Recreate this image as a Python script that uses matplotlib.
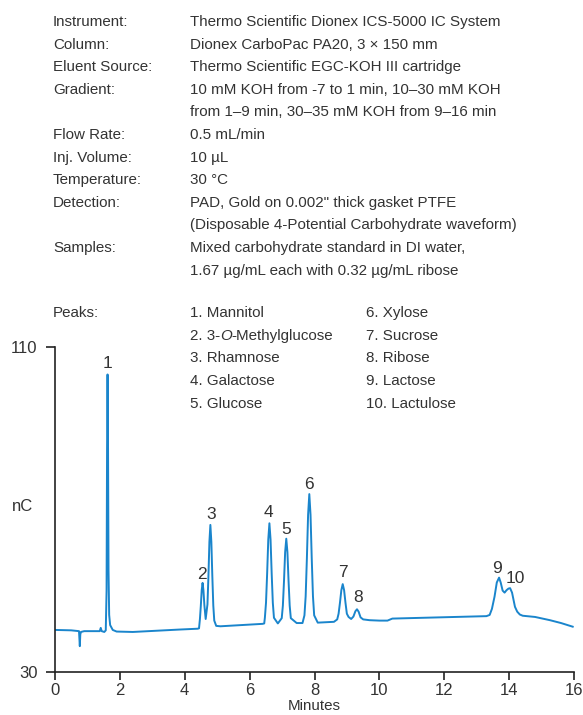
import matplotlib
matplotlib.use("Agg")
import matplotlib.pyplot as plt

FONT = ["Liberation Sans", "DejaVu Sans"]
plt.rcParams["font.family"] = FONT

TEXT = "#333333"
LINE = "#1a85cc"

# conditions table
cond_labels = ["Instrument:", "Column:", "Eluent Source:", "Gradient:", "", "Flow Rate:",
               "Inj. Volume:", "Temperature:", "Detection:", "", "Samples:", ""]
cond_values = [
    "Thermo Scientific Dionex ICS-5000 IC System",
    "Dionex CarboPac PA20, 3 \u00d7 150 mm",
    "Thermo Scientific EGC-KOH III cartridge",
    "10 mM KOH from -7 to 1 min, 10\u201330 mM KOH",
    "from 1\u20139 min, 30\u201335 mM KOH from 9\u201316 min",
    "0.5 mL/min",
    "10 \u00b5L",
    "30 \u00b0C",
    "PAD, Gold on 0.002\" thick gasket PTFE",
    "(Disposable 4-Potential Carbohydrate waveform)",
    "Mixed carbohydrate standard in DI water,",
    "1.67 \u00b5g/mL each with 0.32 \u00b5g/mL ribose",
]

# peak names; the part between | is set in italics
peak_names = ["Mannitol", "3-|O|-Methylglucose", "Rhamnose", "Galactose", "Glucose",
              "Xylose", "Sucrose", "Ribose", "Lactose", "Lactulose"]

# peak label positions (min, nC at text baseline)
peak_rt = [1.62, 4.52, 4.80, 6.59, 7.14, 7.84, 8.87, 9.35, 13.62, 14.18]
peak_lab_y = [104.9, 52.8, 67.6, 68.2, 64.0, 75.1, 53.4, 47.1, 54.4, 51.8]

# chromatogram trace
minutes = [0.00, 0.50, 0.74, 0.765, 0.78, 0.80, 0.90, 1.38, 1.41, 1.44, 1.52, 1.565,
           1.59, 1.605, 1.62, 1.635, 1.65, 1.67, 1.70, 1.78, 1.90, 2.40, 3.85, 4.40,
           4.44, 4.468, 4.495, 4.523, 4.55, 4.577, 4.605, 4.645, 4.70, 4.73, 4.76, 4.79,
           4.82, 4.85, 4.88, 4.91, 4.97, 5.10, 6.40,
           6.45, 6.47, 6.505, 6.54, 6.575, 6.61, 6.645, 6.68, 6.715, 6.75, 6.87,
           6.99, 7.025, 7.06, 7.095, 7.13, 7.165, 7.20, 7.235, 7.27, 7.45,
           7.63, 7.69, 7.7275, 7.765, 7.8025, 7.84, 7.8775, 7.915, 7.9525, 7.99, 8.10, 8.60,
           8.70, 8.7425, 8.785, 8.8275, 8.87, 8.9125, 8.955, 8.9975, 9.05, 9.13,
           9.20, 9.26, 9.31, 9.36, 9.42, 9.50, 9.70, 10.00, 10.25, 10.40, 13.30,
           13.40, 13.47, 13.55, 13.62, 13.69, 13.74, 13.80, 13.86, 13.92, 13.98, 14.03,
           14.09, 14.18, 14.25, 14.33, 14.42, 14.80, 15.26, 15.60, 15.96]
signal = [40.3, 40.2, 40.0, 36.3, 39.2, 39.8, 40.0, 40.0, 40.8, 40.0, 39.8, 40.2,
          50.0, 85.0, 103.3, 85.0, 55.0, 44.0, 41.5, 40.3, 39.9, 39.8, 40.4, 40.6,
          40.7, 43.0, 46.2, 50.1, 51.9, 50.0, 46.4, 43.0, 46.6, 53.5, 62.0, 66.2,
          62.0, 53.6, 46.3, 42.6, 41.3, 41.2, 41.8,
          41.9, 43.3, 47.0, 54.2, 62.6, 66.6, 62.6, 54.2, 47.0, 43.3, 41.9,
          43.2, 46.3, 52.4, 59.5, 62.8, 59.5, 52.4, 46.3, 43.2, 42.0,
          42.0, 43.9, 48.6, 57.9, 68.7, 73.8, 68.7, 57.9, 48.6, 43.9, 42.1, 42.3,
          42.9, 44.3, 47.0, 50.1, 51.6, 50.1, 47.0, 44.3, 43.5, 43.0,
          43.6, 44.9, 45.4, 44.8, 43.4, 42.9, 42.7, 42.6, 42.6, 43.1, 43.7,
          44.0, 45.5, 48.5, 52.0, 53.2, 52.0, 50.0, 49.5, 50.1, 50.5, 50.6,
          49.5, 46.0, 44.8, 44.1, 43.8, 43.5, 42.7, 42.0, 41.1]

fig = plt.figure(figsize=(5.83, 7.15), dpi=100)
renderer = fig.canvas.get_renderer()
H = 715.0
W = 583.0
FS = 10.9

# conditions text
for i, (lab, val) in enumerate(zip(cond_labels, cond_values)):
    y = 1 - (22 + 22.6 * i) / H
    if lab:
        fig.text(53 / W, y, lab, fontsize=FS, color=TEXT, va="center", ha="left")
    fig.text(190 / W, y, val, fontsize=FS, color=TEXT, va="center", ha="left")

# peaks list
fig.text(53 / W, 1 - 313 / H, "Peaks:", fontsize=FS, color=TEXT, va="center", ha="left")
for i, name in enumerate(peak_names):
    col = i // 5
    row = i % 5
    x = (190 if col == 0 else 366) / W
    y = 1 - (313 + 22.7 * row) / H
    parts = f"{i + 1}. {name}".split("|")
    for j, part in enumerate(parts):
        t = fig.text(x, y, part, fontsize=FS, color=TEXT, va="center", ha="left",
                     style="italic" if j % 2 else "normal")
        x += t.get_window_extent(renderer).width / W

ax = fig.add_axes([55 / W, 1 - 671.7 / H, (574 - 55) / W, (671.7 - 347.3) / H])
ax.set_facecolor("none")
ax.plot(minutes, signal, color=LINE, lw=1.4, solid_joinstyle="round")

for i, (x, y) in enumerate(zip(peak_rt, peak_lab_y)):
    ax.text(x, y, str(i + 1), fontsize=12.5, color=TEXT, ha="center", va="baseline")

ax.set_xlim(0, 16)
ax.set_ylim(30, 110)
ax.set_xticks(range(0, 17, 2))
ax.set_yticks([30, 110])
ax.spines["top"].set_visible(False)
ax.spines["right"].set_visible(False)
for s in ("left", "bottom"):
    ax.spines[s].set_color("#222222")
    ax.spines[s].set_linewidth(1.2)
ax.tick_params(axis="both", direction="out", length=6, width=1.2, color="#222222",
               labelsize=12, labelcolor=TEXT)
ax.tick_params(axis="x", pad=2)
ax.tick_params(axis="y", length=6.5, pad=6)
ax.set_xlabel("Minutes", fontsize=FS, color=TEXT, labelpad=1)
ax.set_ylabel("nC", fontsize=12, color=TEXT, rotation=0, ha="left", va="center")
ax.yaxis.set_label_coords(-0.083, 0.51)

fig.savefig("out.png", dpi=100)
